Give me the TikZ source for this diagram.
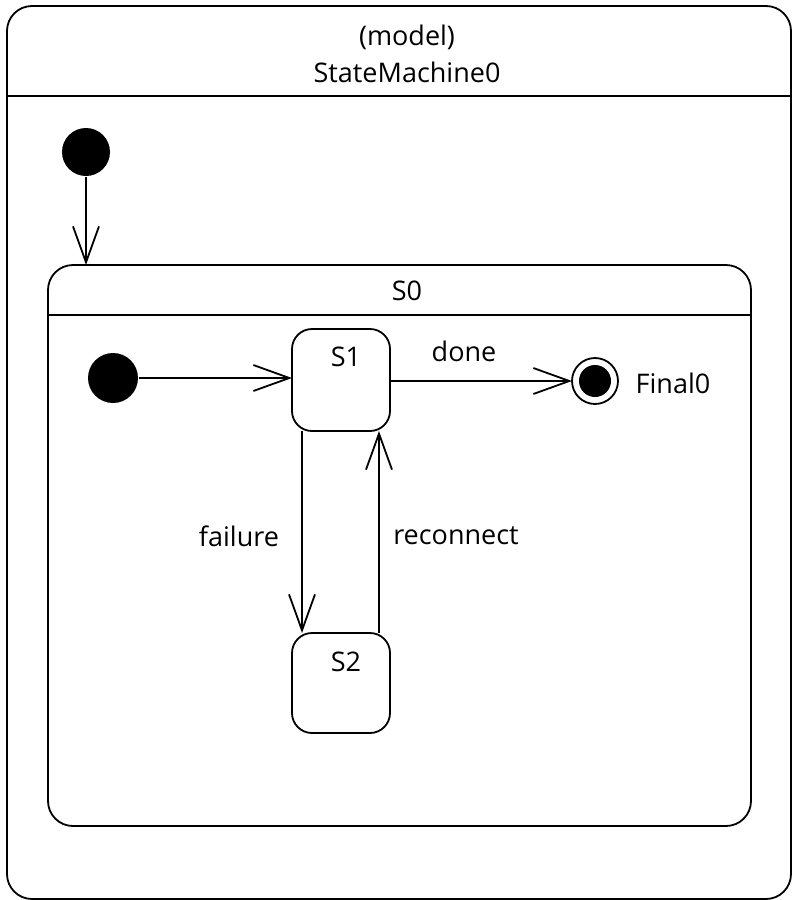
\documentclass[tikz,border=0pt]{standalone}
\usepackage{fontspec}
\setmainfont{Open Sans}
\usetikzlibrary{arrows.meta}
\begin{document}
\begin{tikzpicture}[x=1pt,y=-1pt,
  line width=1.8pt,
  every node/.style={font=\fontsize{27}{32}\selectfont},
  container/.style={draw, rounded corners=25pt, inner sep=0pt, outer sep=0pt},
  statebox/.style={draw, rounded corners=20pt, inner sep=0pt, outer sep=0pt,
    minimum width=98pt},
  initdot/.style={circle, fill=black, inner sep=0pt, minimum size=48pt},
  trans/.style={-{Straight Barb[length=36pt,width=26pt,line width=1.8pt]}},
  lbl/.style={inner sep=0pt}
]
\useasboundingbox (0,0) rectangle (792,900);

% outer state machine frame
\node[container, minimum width=784pt, minimum height=893pt] (sm) at (399,452.5) {};
\draw (sm.west |- 0,96) -- (sm.east |- 0,96);
\node[lbl] (smst) at (407,37) {(model)};
\node[lbl] (smname) at (407,72) {StateMachine0};

% top-level initial pseudostate
\node[initdot] (init1) at (86,152) {};

% composite state S0
\node[container, minimum width=703pt, minimum height=561pt] (s0) at (399.5,545.5) {};
\draw (s0.west |- 0,315) -- (s0.east |- 0,315);
\node[lbl] (s0name) at (407,291) {S0};

\draw[trans] (init1.south) -- (init1.south |- s0.north);

% inner states
\node[initdot, minimum size=50pt] (init2) at (113,378) {};
\node[statebox, minimum height=102pt] (s1) at (341,380) {};
\node[lbl] (s1name) at (346,357) {S1};
\node[statebox, minimum height=100pt] (s2) at (341,683) {};
\node[lbl] (s2name) at (346,662) {S2};

% final state
\node[circle, draw, minimum size=46pt, inner sep=0pt, outer sep=0pt] (fin) at (595,381) {};
\node[circle, fill=black, minimum size=32pt, inner sep=0pt] (fincore) at (fin.center) {};
\node[lbl] (finname) at (673,383) {Final0};

% transitions
\draw[trans] (init2.east) -- (init2.east -| s1.west);
\draw[trans] (s1.east |- fin.west) -- (fin.west);
\node[lbl] (done) at (464,351) {done};

\draw[trans] ([xshift=-39pt]s1.south) -- ([xshift=-39pt]s2.north);
\node[lbl] (failure) at (239,536) {failure};
\draw[trans] ([xshift=38pt]s2.north) -- ([xshift=38pt]s1.south);
\node[lbl] (reconnect) at (456,536) {reconnect};
\end{tikzpicture}
\end{document}
